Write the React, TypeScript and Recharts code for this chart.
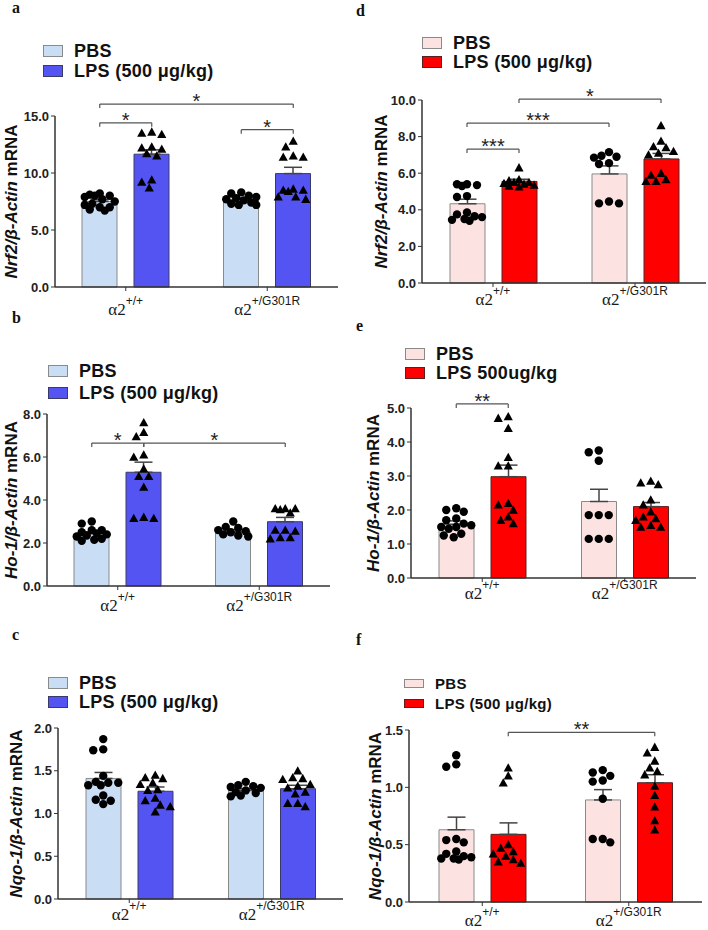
import {
  Bar,
  ComposedChart,
  ErrorBar,
  Label,
  Legend,
  ReferenceLine,
  Scatter,
  XAxis,
  YAxis,
} from "recharts";

const genotypes = ["+/+", "+/G301R"];

// a: Nrf2 (blue)
const aPbsMean = [7.5, 7.7];
const aPbsSem = [0.15, 0.12];
const aLpsMean = [11.65, 9.95];
const aLpsSem = [0.38, 0.55];
const aPbsWt = [8.2, 8.1, 8.0, 8.0, 7.9, 7.7, 7.5, 7.3, 7.2, 7.0, 7.0, 6.8, 6.7];
const aLpsWt = [13.6, 13.5, 13.4, 12.3, 12.2, 12.1, 11.7, 11.5, 9.4, 9.2, 8.7];
const aPbsMut = [8.3, 8.2, 8.0, 7.9, 7.8, 7.7, 7.6, 7.4, 7.3, 7.2, 7.2];
const aLpsMut = [12.8, 12.3, 11.5, 11.4, 11.4, 8.6, 8.5, 8.5, 8.4, 7.9, 7.9, 7.7];
const aTicks = [0, 5, 10, 15];

// b: Ho-1 (blue)
const bPbsMean = [2.44, 2.52];
const bPbsSem = [0.08, 0.11];
const bLpsMean = [5.29, 2.99];
const bLpsSem = [0.47, 0.2];
const bPbsWt = [3.0, 2.9, 2.6, 2.6, 2.5, 2.45, 2.4, 2.35, 2.3, 2.2, 2.15, 2.1];
const bLpsWt = [7.6, 7.15, 6.95, 6.1, 6.0, 5.45, 5.1, 5.1, 4.6, 3.2, 3.15, 3.15];
const bPbsMut = [3.0, 2.75, 2.7, 2.6, 2.55, 2.5, 2.4, 2.35, 2.3];
const bLpsMut = [3.6, 3.6, 3.6, 3.55, 3.4, 2.6, 2.6, 2.55, 2.25, 2.25, 2.2];
const bTicks = [0, 2, 4, 6, 8];

// c: Nqo-1 (blue)
const cPbsMean = [1.41, 1.27];
const cPbsSem = [0.07, 0.02];
const cLpsMean = [1.26, 1.29];
const cLpsSem = [0.05, 0.04];
const cPbsWt = [1.87, 1.75, 1.74, 1.44, 1.37, 1.36, 1.36, 1.33, 1.33, 1.21, 1.16, 1.15, 1.11];
const cLpsWt = [1.45, 1.42, 1.41, 1.36, 1.34, 1.28, 1.27, 1.18, 1.15, 1.1, 1.08, 1.02];
const cPbsMut = [1.37, 1.33, 1.32, 1.31, 1.3, 1.27, 1.25, 1.24, 1.21, 1.2];
const cLpsMut = [1.5, 1.42, 1.41, 1.4, 1.34, 1.32, 1.3, 1.25, 1.23, 1.12, 1.12, 1.08];
const cTicks = [0, 0.5, 1, 1.5, 2];

// d: Nrf2 (red)
const dPbsMean = [4.33, 5.96];
const dPbsSem = [0.25, 0.44];
const dLpsMean = [5.55, 6.78];
const dLpsSem = [0.12, 0.3];
const dPbsWt = [5.4, 5.4, 5.35, 5.3, 4.75, 4.7, 3.85, 3.75, 3.65, 3.6, 3.5, 3.45, 3.4];
const dLpsWt = [6.3, 5.65, 5.6, 5.5, 5.5, 5.45, 5.4, 5.35, 5.3, 5.25];
const dPbsMut = [7.15, 6.95, 6.9, 6.85, 6.55, 6.5, 4.45, 4.35, 4.35];
const dLpsMut = [8.6, 7.75, 7.45, 7.4, 7.2, 7.1, 7.0, 6.0, 5.9, 5.65, 5.55, 5.55];
const dTicks = [0, 2, 4, 6, 8, 10];

// e: Ho-1 (red)
const ePbsMean = [1.58, 2.25];
const ePbsSem = [0.1, 0.36];
const eLpsMean = [2.98, 2.1];
const eLpsSem = [0.34, 0.12];
const ePbsWt = [2.05, 2.0, 1.95, 1.75, 1.7, 1.6, 1.55, 1.5, 1.5, 1.45, 1.3, 1.25, 1.2];
const eLpsWt = [4.75, 4.7, 4.4, 3.55, 3.3, 3.3, 2.2, 2.15, 2.0, 1.8, 1.7, 1.6];
const ePbsMut = [3.75, 3.7, 3.45, 1.85, 1.85, 1.85, 1.15, 1.15, 1.15];
const eLpsMut = [2.85, 2.8, 2.75, 2.3, 2.15, 1.95, 1.8, 1.75, 1.7, 1.55, 1.5, 1.5];
const eTicks = [0, 1, 2, 3, 4, 5];

// f: Nqo-1 (red)
const fPbsMean = [0.63, 0.89];
const fPbsSem = [0.11, 0.09];
const fLpsMean = [0.59, 1.04];
const fLpsSem = [0.1, 0.07];
const fPbsWt = [1.28, 1.2, 1.18, 0.55, 0.54, 0.52, 0.44, 0.42, 0.4, 0.39, 0.38, 0.38, 0.37];
const fLpsWt = [1.17, 1.1, 1.04, 0.5, 0.47, 0.44, 0.42, 0.4, 0.37, 0.35, 0.34];
const fPbsMut = [1.15, 1.13, 1.1, 1.06, 1.05, 0.9, 0.55, 0.55, 0.52];
const fLpsMut = [1.35, 1.3, 1.23, 1.17, 1.14, 1.11, 1.01, 0.93, 0.83, 0.71, 0.63];
const fTicks = [0, 0.5, 1, 1.5];

// significance brackets: bar index 0 PBS +/+, 1 LPS +/+, 2 PBS G301R, 3 LPS G301R
type Bracket = { from: number; to: number; y: number; text: string };
const aBrackets: Bracket[] = [
  { from: 0, to: 1, y: 14.4, text: "*" },
  { from: 2, to: 3, y: 13.8, text: "*" },
  { from: 0, to: 3, y: 16.05, text: "*" },
];
const bBrackets: Bracket[] = [
  { from: 0, to: 1, y: 6.65, text: "*" },
  { from: 1, to: 3, y: 6.65, text: "*" },
];
const dBrackets: Bracket[] = [
  { from: 0, to: 1, y: 7.32, text: "***" },
  { from: 0, to: 2, y: 8.74, text: "***" },
  { from: 1, to: 3, y: 10.05, text: "*" },
];
const eBrackets: Bracket[] = [{ from: 0, to: 1, y: 5.12, text: "**" }];
const fBrackets: Bracket[] = [{ from: 1, to: 3, y: 1.48, text: "**" }];

const SANS = "'Liberation Sans', Arial, sans-serif";
const SERIF = "'Liberation Serif', 'Times New Roman', serif";
const BAR_SIZE = 35;
const BAR_GAP = 17;

const palettes = {
  blue: { pbs: "#c9ddf5", pbsStroke: "#8a8a8a", lps: "#5454f2", lpsStroke: "#3a3a6a" },
  red: { pbs: "#fde2e2", pbsStroke: "#8a8a8a", lps: "#ff0000", lpsStroke: "#5a2020" },
};

type PanelSpec = {
  letter: string;
  letterX: number;
  letterY: number;
  colX: number;
  top: number;
  axisX: number;
  plotTop: number;
  plotBottom: number;
  plotRight: number;
  tickDy: number;
  labelX: number;
  legendX: number;
  legendY: number;
  legendRow: number;
  legendFont: number;
  boxH: number;
  gene: string;
  lpsName: string;
  palette: "blue" | "red";
  ticks: number[];
  pbsMean: number[];
  pbsSem: number[];
  lpsMean: number[];
  lpsSem: number[];
  points: number[][];
  brackets: Bracket[];
};

// simple beeswarm: horizontal offsets (px) so dots do not overlap
function swarm(values: number[], ppu: number): number[] {
  const placed: { off: number; py: number }[] = [];
  const out = new Array(values.length).fill(0);
  const order = values.map((v, i) => ({ v, i })).sort((p, q) => q.v - p.v);
  const step = 2.5;
  const maxOff = 15;
  const minDist = 8;
  for (const { v, i } of order) {
    const py = v * ppu;
    let chosen: number | null = null;
    let best = 0;
    let bestScore = -1;
    for (let k = 0; k * step <= maxOff && chosen === null; k++) {
      for (const sgn of k === 0 ? [1] : [-1, 1]) {
        const off = sgn * k * step;
        const d = placed.reduce((m, p) => Math.min(m, Math.hypot(p.off - off, p.py - py)), Infinity);
        if (d >= minDist) {
          chosen = off;
          break;
        }
        if (d > bestScore) {
          bestScore = d;
          best = off;
        }
      }
    }
    const off = chosen === null ? best : chosen;
    placed.push({ off, py });
    out[i] = off;
  }
  return out;
}

const Dot = (props: any) => <circle cx={props.cx} cy={props.cy} r={4.2} fill="#000" />;
const Tri = (props: any) => {
  const { cx, cy } = props;
  const s = 4.6;
  return <path d={`M${cx},${cy - s} L${cx + s},${cy + s * 0.8} L${cx - s},${cy + s * 0.8} Z`} fill="#000" />;
};

function Panel({ s }: { s: PanelSpec }) {
  const col = palettes[s.palette];
  const width = 354;
  const height = s.plotBottom - s.top + 34;
  const plotW = s.plotRight - s.axisX;
  const bandPx = plotW / 2;
  const yMax = s.ticks[s.ticks.length - 1];
  const ppu = (s.plotBottom - s.plotTop) / yMax;
  const barCenter = (i: number) =>
    Math.floor(i / 2) + 0.5 + ((i % 2 === 0 ? -1 : 1) * (BAR_SIZE + BAR_GAP)) / 2 / bandPx;

  const barData = genotypes.map((g, i) => ({
    g,
    pbs: s.pbsMean[i],
    pbsErr: [0, s.pbsSem[i]],
    lps: s.lpsMean[i],
    lpsErr: [0, s.lpsSem[i]],
  }));

  const groupPoints = s.points.map((vals, gi) => {
    const offs = swarm(vals, ppu);
    return vals.map((v, k) => ({ x: barCenter(gi) + offs[k] / bandPx, y: v }));
  });
  const circles = [...groupPoints[0], ...groupPoints[2]];
  const triangles = [...groupPoints[1], ...groupPoints[3]];
  const drop = 4 / ppu;

  const legendItems = [
    { name: "PBS", fill: col.pbs, stroke: col.pbsStroke },
    { name: s.lpsName, fill: col.lps, stroke: col.lpsStroke },
  ];

  const labelY = (s.plotTop + s.plotBottom) / 2 - s.top;

  const renderTick = (p: any) => (
    <text x={p.x} y={p.y - 4 + s.tickDy} textAnchor="middle" fill="#1a1a1a">
      <tspan fontFamily={SERIF} fontSize={17}>α2</tspan>
      <tspan fontFamily={SANS} fontSize={12} dy={-10}>{p.payload.value}</tspan>
    </text>
  );

  return (
    <div style={{ position: "absolute", left: s.colX, top: s.top, width, height }}>
      <ComposedChart
        width={width}
        height={height}
        data={barData}
        barGap={BAR_GAP}
        margin={{ top: s.plotTop - s.top, right: s.colX + width - s.plotRight, bottom: 2, left: 0 }}
      >
        <XAxis
          xAxisId="cat"
          dataKey="g"
          height={32}
          interval={0}
          tickSize={4}
          tickMargin={0}
          axisLine={{ stroke: "#333", strokeWidth: 1.5 }}
          tickLine={{ stroke: "#333" }}
          tick={renderTick}
        />
        <XAxis xAxisId="num" dataKey="x" type="number" domain={[0, 2]} height={0} hide />
        <YAxis
          yAxisId="v"
          type="number"
          domain={[0, yMax]}
          ticks={s.ticks}
          interval={0}
          width={s.axisX - s.colX}
          tickSize={4}
          tickMargin={2}
          tickFormatter={(v: number) => v.toFixed(1)}
          axisLine={{ stroke: "#333", strokeWidth: 1.5 }}
          tickLine={{ stroke: "#333" }}
          tick={{ fontFamily: SANS, fontSize: 13, fontWeight: 700, fill: "#222" }}
        >
          <Label
            content={() => (
              <text
                x={s.labelX}
                y={labelY}
                transform={`rotate(-90, ${s.labelX}, ${labelY})`}
                textAnchor="middle"
                fontFamily={SANS}
                fontWeight={700}
                fontSize={17}
                fill="#111"
              >
                <tspan fontStyle="italic">{`${s.gene}/β-Actin`}</tspan>
                <tspan> mRNA</tspan>
              </text>
            )}
          />
        </YAxis>
        <YAxis yAxisId="s" dataKey="y" type="number" domain={[0, yMax]} width={0} hide />
        <Legend
          layout="vertical"
          align="center"
          verticalAlign="middle"
          wrapperStyle={{ left: s.legendX, top: s.legendY, width: "auto" }}
          content={() => (
            <div
              style={{
                fontFamily: SANS,
                fontWeight: 700,
                fontSize: s.legendFont,
                letterSpacing: 0.3,
                color: "#111",
              }}
            >
              {legendItems.map((it) => (
                <div key={it.name} style={{ display: "flex", alignItems: "center", height: s.legendRow }}>
                  <span
                    style={{
                      display: "inline-block",
                      width: 20,
                      height: s.boxH,
                      boxSizing: "border-box",
                      background: it.fill,
                      border: `1px solid ${it.stroke}`,
                      marginRight: 11,
                    }}
                  />
                  <span style={{ whiteSpace: "nowrap", lineHeight: 1 }}>{it.name}</span>
                </div>
              ))}
            </div>
          )}
        />
        <Bar
          xAxisId="cat"
          yAxisId="v"
          dataKey="pbs"
          name="PBS"
          barSize={BAR_SIZE}
          fill={col.pbs}
          stroke={col.pbsStroke}
          strokeWidth={1}
          isAnimationActive={false}
        >
          <ErrorBar dataKey="pbsErr" width={9} stroke="#444" strokeWidth={1.5} direction="y" />
        </Bar>
        <Bar
          xAxisId="cat"
          yAxisId="v"
          dataKey="lps"
          name={s.lpsName}
          barSize={BAR_SIZE}
          fill={col.lps}
          stroke={col.lpsStroke}
          strokeWidth={1}
          isAnimationActive={false}
        >
          <ErrorBar dataKey="lpsErr" width={9} stroke="#444" strokeWidth={1.5} direction="y" />
        </Bar>
        <Scatter xAxisId="num" yAxisId="s" data={circles} shape={Dot} legendType="none" isAnimationActive={false} />
        <Scatter xAxisId="num" yAxisId="s" data={triangles} shape={Tri} legendType="none" isAnimationActive={false} />
        {s.brackets.map((b, i) => {
          const x1 = barCenter(b.from);
          const x2 = barCenter(b.to);
          return [
            <ReferenceLine
              key={`h${i}`}
              xAxisId="num"
              yAxisId="s"
              ifOverflow="visible"
              stroke="#555"
              strokeWidth={1.2}
              segment={[{ x: x1, y: b.y }, { x: x2, y: b.y }]}
              label={
                <Label
                  content={(p: any) => {
                    const vb = p.viewBox || {};
                    return (
                      <text
                        x={(vb.x ?? 0) + (vb.width ?? 0) / 2}
                        y={(vb.y ?? 0) + 4}
                        textAnchor="middle"
                        fontFamily={SANS}
                        fontSize={20}
                        fill="#222"
                      >
                        {b.text}
                      </text>
                    );
                  }}
                />
              }
            />,
            <ReferenceLine
              key={`l${i}`}
              xAxisId="num"
              yAxisId="s"
              ifOverflow="visible"
              stroke="#555"
              strokeWidth={1.2}
              segment={[{ x: x1, y: b.y }, { x: x1, y: b.y - drop }]}
            />,
            <ReferenceLine
              key={`r${i}`}
              xAxisId="num"
              yAxisId="s"
              ifOverflow="visible"
              stroke="#555"
              strokeWidth={1.2}
              segment={[{ x: x2, y: b.y }, { x: x2, y: b.y - drop }]}
            />,
          ];
        })}
      </ComposedChart>
    </div>
  );
}

const panels: PanelSpec[] = [
  {
    letter: "a", letterX: 12, letterY: 13, colX: 0, top: 0, axisX: 55, plotTop: 116, plotBottom: 287, plotRight: 338,
    tickDy: 28, labelX: 17, legendX: 43, legendY: 41, legendRow: 20, legendFont: 18, boxH: 12,
    gene: "Nrf2", lpsName: "LPS (500 μg/kg)", palette: "blue", ticks: aTicks,
    pbsMean: aPbsMean, pbsSem: aPbsSem, lpsMean: aLpsMean, lpsSem: aLpsSem,
    points: [aPbsWt, aLpsWt, aPbsMut, aLpsMut], brackets: aBrackets,
  },
  {
    letter: "b", letterX: 12, letterY: 323, colX: 0, top: 300, axisX: 47, plotTop: 414, plotBottom: 586, plotRight: 330,
    tickDy: 25, labelX: 17, legendX: 48, legendY: 60, legendRow: 22, legendFont: 18, boxH: 12,
    gene: "Ho-1", lpsName: "LPS (500 μg/kg)", palette: "blue", ticks: bTicks,
    pbsMean: bPbsMean, pbsSem: bPbsSem, lpsMean: bLpsMean, lpsSem: bLpsSem,
    points: [bPbsWt, bLpsWt, bPbsMut, bLpsMut], brackets: bBrackets,
  },
  {
    letter: "c", letterX: 12, letterY: 640, colX: 0, top: 615, axisX: 58, plotTop: 728, plotBottom: 899, plotRight: 343,
    tickDy: 21, labelX: 22, legendX: 48, legendY: 58, legendRow: 19.5, legendFont: 18, boxH: 12,
    gene: "Nqo-1", lpsName: "LPS (500 μg/kg)", palette: "blue", ticks: cTicks,
    pbsMean: cPbsMean, pbsSem: cPbsSem, lpsMean: cLpsMean, lpsSem: cLpsSem,
    points: [cPbsWt, cLpsWt, cPbsMut, cLpsMut], brackets: [],
  },
  {
    letter: "d", letterX: 356, letterY: 16, colX: 354, top: 0, axisX: 422, plotTop: 100, plotBottom: 283, plotRight: 706,
    tickDy: 22, labelX: 33, legendX: 68, legendY: 33, legendRow: 19.5, legendFont: 18, boxH: 12,
    gene: "Nrf2", lpsName: "LPS (500 μg/kg)", palette: "red", ticks: dTicks,
    pbsMean: dPbsMean, pbsSem: dPbsSem, lpsMean: dLpsMean, lpsSem: dLpsSem,
    points: [dPbsWt, dLpsWt, dPbsMut, dLpsMut], brackets: dBrackets,
  },
  {
    letter: "e", letterX: 356, letterY: 331, colX: 354, top: 300, axisX: 411, plotTop: 408, plotBottom: 578, plotRight: 696,
    tickDy: 21, labelX: 25, legendX: 51, legendY: 44, legendRow: 19.5, legendFont: 18, boxH: 12,
    gene: "Ho-1", lpsName: "LPS 500ug/kg", palette: "red", ticks: eTicks,
    pbsMean: ePbsMean, pbsSem: ePbsSem, lpsMean: eLpsMean, lpsSem: eLpsSem,
    points: [ePbsWt, eLpsWt, ePbsMut, eLpsMut], brackets: eBrackets,
  },
  {
    letter: "f", letterX: 356, letterY: 645, colX: 354, top: 615, axisX: 409, plotTop: 730, plotBottom: 902, plotRight: 702,
    tickDy: 24, labelX: 27, legendX: 50, legendY: 58, legendRow: 20.5, legendFont: 15, boxH: 9,
    gene: "Nqo-1", lpsName: "LPS (500 μg/kg)", palette: "red", ticks: fTicks,
    pbsMean: fPbsMean, pbsSem: fPbsSem, lpsMean: fLpsMean, lpsSem: fLpsSem,
    points: [fPbsWt, fLpsWt, fPbsMut, fLpsMut], brackets: fBrackets,
  },
];

export default function App() {
  return (
    <div
      style={{
        position: "absolute",
        left: 0,
        top: 0,
        width: 708,
        height: 930,
        overflow: "hidden",
        background: "#fff",
      }}
    >
      {panels.map((p) => (
        <Panel key={p.letter} s={p} />
      ))}
      <svg width={708} height={930} style={{ position: "absolute", left: 0, top: 0, pointerEvents: "none" }}>
        {panels.map((p) => (
          <text key={p.letter} x={p.letterX} y={p.letterY} fontFamily={SERIF} fontWeight={700} fontSize={16} fill="#111">
            {p.letter}
          </text>
        ))}
      </svg>
    </div>
  );
}
